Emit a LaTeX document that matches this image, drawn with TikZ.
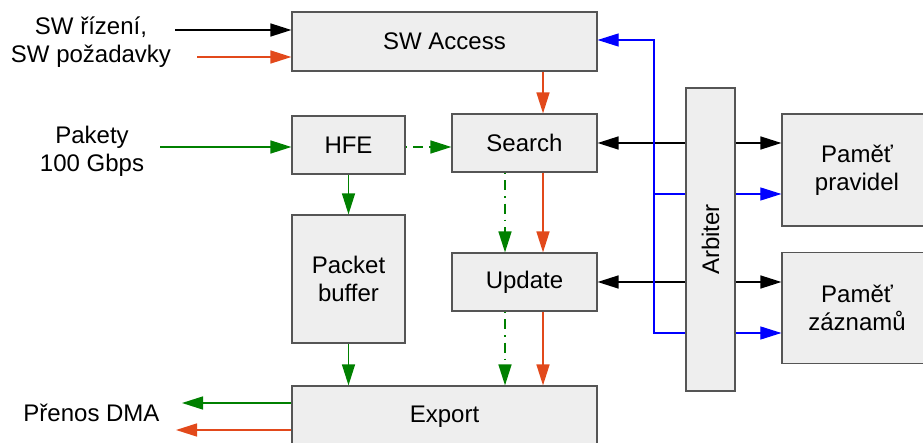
\documentclass[tikz,border=0pt]{standalone}
\usepackage{fontspec}
\setmainfont{Liberation Sans}
\usepackage{tikz}
\usetikzlibrary{arrows.meta}
\definecolor{boxfill}{HTML}{EEEEEE}
\definecolor{boxline}{HTML}{555555}
\definecolor{datagreen}{HTML}{008000}
\definecolor{reqorange}{HTML}{E2491B}
\definecolor{memblue}{HTML}{0000FF}

\begin{document}
\begin{tikzpicture}[x=1pt,y=-1pt,>={Triangle[length=21pt,width=13pt]},
  font=\fontsize{24}{27.6}\selectfont,
  blok/.style={draw=boxline,fill=boxfill,line width=1.2pt,inner sep=0pt,align=center},
  tok/.style={->,line width=1.5pt},
  dashdot/.style={dash pattern=on 1.5pt off 6pt on 10pt off 6pt}]
  \clip (0,0) rectangle (923,443);
  % blocks
  \node[blok,minimum width=305pt,minimum height=59pt] (swa) at (444.5,41.5) {SW Access};
  \node[blok,minimum width=113pt,minimum height=58pt] (hfe) at (348.5,145) {HFE};
  \node[blok,minimum width=145pt,minimum height=58pt] (search) at (524.5,143) {Search};
  \node[blok,minimum width=113pt,minimum height=128pt] (pbuf) at (348.5,279) {Packet\\buffer};
  \node[blok,minimum width=145pt,minimum height=58pt] (update) at (524.5,282) {Update};
  \node[blok,minimum width=305pt,minimum height=62pt] (export) at (444.5,417) {Export};
  \node[blok,rotate=90,minimum width=303pt,minimum height=49pt] (arb) at (710.5,239.5) {Arbiter};
  \node[blok,minimum width=150pt,minimum height=112pt] (pmr) at (857,170) {Paměť\\pravidel};
  \node[blok,minimum width=150pt,minimum height=111pt] (pmz) at (857,308) {Paměť\\záznamů};
  % outside labels
  \node[align=center] (swin) at (91,42) {SW řízení,\\SW požadavky};
  \node[align=center] (pkt) at (92,151) {Pakety\\100 Gbps};
  \node (dma) at (91.5,413) {Přenos DMA};
  % free ends and columns
  \coordinate (swctl) at (175,30);
  \coordinate (swreq) at (197,57);
  \coordinate (pktin) at (160,147);
  \coordinate (dmag) at (182,403);
  \coordinate (dmao) at (176,430);
  \coordinate (gcol) at (505,0);
  \coordinate (ocol) at (543,0);
  \coordinate (ba) at (654,40);
  \coordinate (bb) at (654,194);
  \coordinate (bc) at (654,333);
  % SW side
  \draw[tok] (swctl) -- (swctl -| swa.west);
  \draw[tok,reqorange] (swreq) -- (swreq -| swa.west);
  \draw[tok,reqorange] (swa.south -| ocol) -- (search.north -| ocol);
  % packet path
  \draw[tok,datagreen] (pktin) -- (pktin -| hfe.west);
  \draw[tok,datagreen,dashdot] (pktin -| hfe.east) -- (pktin -| search.west);
  \draw[tok,datagreen] (hfe.south) -- (pbuf.north);
  \draw[tok,datagreen] (pbuf.south) -- (pbuf.south |- export.north);
  \draw[tok,datagreen,dashdot] (search.south -| gcol) -- (update.north -| gcol);
  \draw[tok,reqorange] (search.south -| ocol) -- (update.north -| ocol);
  \draw[tok,datagreen,dashdot] (update.south -| gcol) -- (export.north -| gcol);
  \draw[tok,reqorange] (update.south -| ocol) -- (export.north -| ocol);
  \draw[tok,datagreen] (export.west |- dmag) -- (dmag);
  \draw[tok,reqorange] (export.west |- dmao) -- (dmao);
  % arbiter and memories
  \draw[tok] (arb.north |- search) -- (search.east);
  \draw[tok] (arb.south |- search) -- (pmr.west |- search);
  \draw[tok] (arb.north |- update) -- (update.east);
  \draw[tok] (arb.south |- update) -- (pmz.west |- update);
  \draw[tok,memblue,line width=1.1pt] (arb.north |- bc) -- (bc) -- (ba) -- (ba -| swa.east);
  \draw[memblue,line width=1.1pt] (bb) -- (arb.north |- bb);
  \draw[tok,memblue,line width=1.1pt] (arb.south |- bb) -- (pmr.west |- bb);
  \draw[tok,memblue,line width=1.1pt] (arb.south |- bc) -- (pmz.west |- bc);
\end{tikzpicture}
\end{document}
